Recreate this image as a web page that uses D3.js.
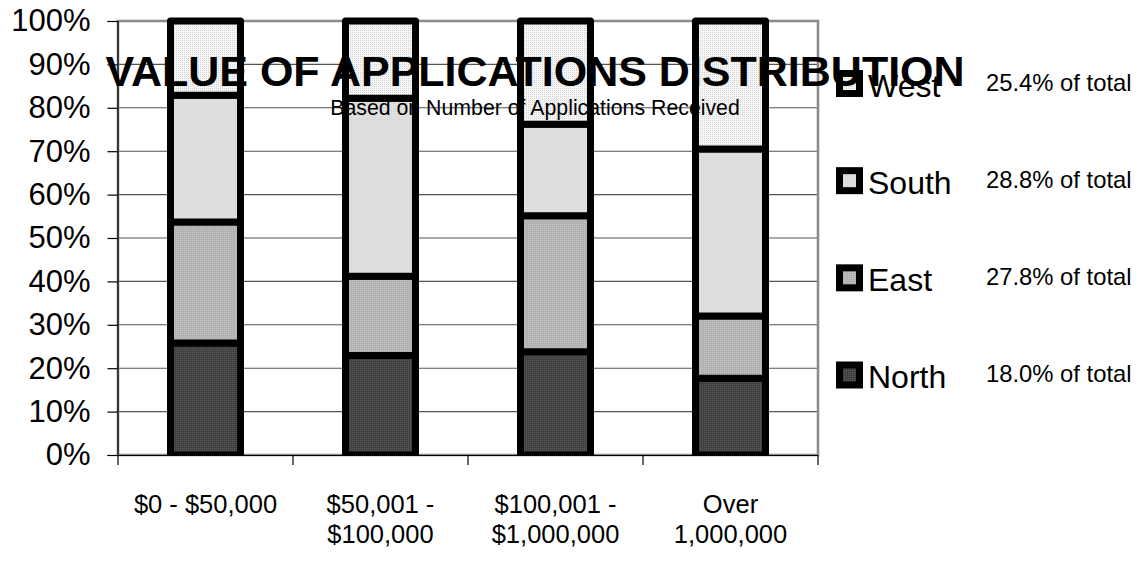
<!DOCTYPE html>
<html>
<head>
<meta charset="utf-8">
<script src="https://cdn.jsdelivr.net/npm/d3@7"></script>
<style>
  html, body { margin: 0; padding: 0; background: #fff; }
  svg { display: block; font-family: "Liberation Sans", Arial, sans-serif; }
</style>
</head>
<body>
<svg id="chart" width="1142" height="564"></svg>
<script>
// Value bands (x axis), each split into two lines
const categories = ["$0 - $50,000", "$50,001 - $100,000", "$100,001 - $1,000,000", "Over 1,000,000"];
const categoryLines = [["$0 - $50,000"], ["$50,001 -", "$100,000"], ["$100,001 -", "$1,000,000"], ["Over", "1,000,000"]];

// Regions, stacked bottom to top
const regions = ["North", "East", "South", "West"];
const north = [25.8, 22.9, 23.8, 17.7];
const east  = [27.9, 18.3, 31.3, 14.3];
const south = [29.2, 41.0, 21.1, 38.5];
const west  = [17.1, 17.8, 23.8, 29.5];

// Share of all applications per region (legend)
const shareOfTotal = [18.0, 27.8, 28.8, 25.4];

const yTicks = [0, 10, 20, 30, 40, 50, 60, 70, 80, 90, 100];

const titleText = "VALUE OF APPLICATIONS DISTRIBUTION";
const subtitleText = "Based on Number of Applications Received";

const svg = d3.select("#chart");
const plot = { left: 118, right: 818, top: 21, bottom: 455 };

// Dithered fills for each region
const fills = {
  North: { base: "#3f3f3f", dot: "#5c5c5c" },
  East:  { base: "#b0b0b0", dot: "#c4c4c4" },
  South: { base: "#dadada", dot: "#e8e8e8" },
  West:  { base: "#f6f6f6", dot: "#d4d4d4" }
};
const defs = svg.append("defs");
regions.forEach(r => {
  const p = defs.append("pattern")
    .attr("id", "fill-" + r)
    .attr("width", 2).attr("height", 2)
    .attr("patternUnits", "userSpaceOnUse");
  p.append("rect").attr("width", 2).attr("height", 2).attr("fill", fills[r].base);
  p.append("rect").attr("width", 1).attr("height", 1).attr("fill", fills[r].dot);
});
defs.append("clipPath").attr("id", "plot-clip")
  .append("rect").attr("x", 0).attr("y", 0).attr("width", 1142).attr("height", plot.bottom);

const x = d3.scaleBand().domain(categories).range([plot.left, plot.right]).padding(0);
const y = d3.scaleLinear().domain([0, 100]).range([plot.bottom, plot.top]);

// Gridlines
svg.append("g")
  .selectAll("line")
  .data(yTicks.filter(t => t > 0 && t < 100))
  .join("line")
  .attr("x1", plot.left).attr("x2", plot.right)
  .attr("y1", d => y(d)).attr("y2", d => y(d))
  .attr("stroke", "#555").attr("stroke-width", 1.1);

// Plot area frame
svg.append("rect")
  .attr("x", plot.left).attr("y", plot.top)
  .attr("width", plot.right - plot.left).attr("height", plot.bottom - plot.top)
  .attr("fill", "none").attr("stroke", "#8c8c8c").attr("stroke-width", 2.6);

// Stacked bars
const table = categories.map((c, i) => ({ cat: c, North: north[i], East: east[i], South: south[i], West: west[i] }));
const stacked = d3.stack().keys(regions)(table);
const barW = x.bandwidth() * 0.4;
const barOff = (x.bandwidth() - barW) / 2;

const bars = svg.append("g").attr("clip-path", "url(#plot-clip)");
stacked.forEach(layer => {
  bars.append("g")
    .selectAll("rect")
    .data(layer)
    .join("rect")
    .attr("x", d => x(d.data.cat) + barOff)
    .attr("width", barW)
    .attr("y", d => y(d[1]))
    .attr("height", d => y(d[0]) - y(d[1]))
    .attr("fill", "url(#fill-" + layer.key + ")")
    .attr("stroke", "#000")
    .attr("stroke-width", 7)
    .attr("stroke-linejoin", "round");
});

// Axes
const yAxis = d3.axisLeft(y).tickValues(yTicks).tickSize(10).tickFormat(d => d + "%");
const yg = svg.append("g").attr("transform", `translate(${plot.left - 0.5},0)`).call(yAxis);
yg.select(".domain").attr("stroke", "#000").attr("stroke-width", 1.2);
yg.selectAll(".tick line").attr("stroke", "#000").attr("stroke-width", 1.2);
yg.selectAll(".tick text")
  .attr("x", -27)
  .attr("font-size", 31)
  .attr("font-family", "Liberation Sans, Arial, sans-serif")
  .attr("fill", "#000");

svg.append("line")
  .attr("x1", plot.left - 0.5).attr("x2", plot.right)
  .attr("y1", plot.bottom + 0.5).attr("y2", plot.bottom + 0.5)
  .attr("stroke", "#000").attr("stroke-width", 1.2);

// Category tick marks at band edges
const edges = categories.map(c => x(c)).concat([x(categories[categories.length - 1]) + x.bandwidth()]);
svg.append("g").selectAll("line").data(edges).join("line")
  .attr("x1", d => d).attr("x2", d => d)
  .attr("y1", plot.bottom).attr("y2", plot.bottom + 10)
  .attr("stroke", "#000").attr("stroke-width", 1.2);

// Category labels
const catLabels = svg.append("g").attr("font-size", 25.5).attr("fill", "#000").attr("text-anchor", "middle");
categories.forEach((c, i) => {
  const t = catLabels.append("text")
    .attr("x", x(c) + x.bandwidth() / 2)
    .attr("y", 513);
  categoryLines[i].forEach((line, j) => {
    t.append("tspan")
      .attr("x", x(c) + x.bandwidth() / 2)
      .attr("dy", j === 0 ? 0 : 30)
      .text(line);
  });
});

// Legend (top entry is the top of the stack)
const legendOrder = regions.slice().reverse();
const legendY = d3.scalePoint().domain(legendOrder).range([83.5, 375]);
const legend = svg.append("g");
legendOrder.forEach(r => {
  const cy = legendY(r);
  const idx = regions.indexOf(r);
  legend.append("rect")
    .attr("x", 839.5).attr("y", cy - 10)
    .attr("width", 20).attr("height", 20)
    .attr("fill", "url(#fill-" + r + ")")
    .attr("stroke", "#000").attr("stroke-width", 7);
  legend.append("text")
    .attr("x", 868).attr("y", cy + 13)
    .attr("font-size", 32).attr("fill", "#000")
    .text(r);
  legend.append("text")
    .attr("x", 986).attr("y", cy + 7)
    .attr("font-size", 23.8).attr("fill", "#000")
    .text(shareOfTotal[idx].toFixed(1) + "% of total");
});

// Titles
svg.append("text")
  .attr("x", 535).attr("y", 86)
  .attr("text-anchor", "middle")
  .attr("font-size", 43).attr("font-weight", "bold").attr("fill", "#000")
  .text(titleText);
svg.append("text")
  .attr("x", 535).attr("y", 115)
  .attr("text-anchor", "middle")
  .attr("font-size", 21.3).attr("fill", "#000")
  .text(subtitleText);
</script>
</body>
</html>
